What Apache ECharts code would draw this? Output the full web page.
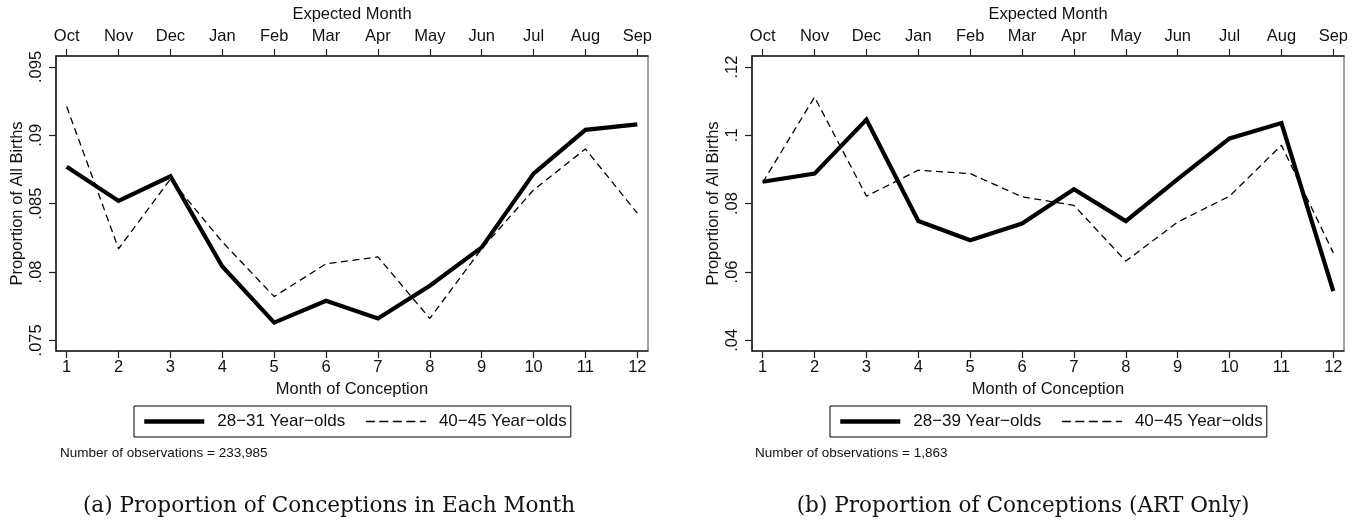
<!DOCTYPE html>
<html>
<head>
<meta charset="utf-8">
<script src="https://cdn.jsdelivr.net/npm/echarts@6/dist/echarts.min.js"></script>
<style>
  html, body { margin: 0; padding: 0; background: #fff; }
  #chart { width: 1363px; height: 521px; }
</style>
</head>
<body>
<div id="chart"></div>
<script>
// Month of conception (1..12) and the expected birth month for each
const conceptionMonths = [1, 2, 3, 4, 5, 6, 7, 8, 9, 10, 11, 12];
const expectedMonths = ['Oct', 'Nov', 'Dec', 'Jan', 'Feb', 'Mar', 'Apr', 'May', 'Jun', 'Jul', 'Aug', 'Sep'];

// Panel (a): all births
const allYoung = [0.0877, 0.0852, 0.0870, 0.0804, 0.0763, 0.0779, 0.0766, 0.0790, 0.0818, 0.0872, 0.0904, 0.0908];
const allOld   = [0.0921, 0.0817, 0.0868, 0.0822, 0.0782, 0.0806, 0.0811, 0.0766, 0.0817, 0.0860, 0.0890, 0.0843];
const allTicks = [0.075, 0.08, 0.085, 0.09, 0.095];

// Panel (b): ART births only
const artYoung = [0.0864, 0.0888, 0.1046, 0.0749, 0.0693, 0.0742, 0.0842, 0.0749, 0.0872, 0.0991, 0.1036, 0.0544];
const artOld   = [0.0862, 0.1112, 0.0822, 0.0898, 0.0888, 0.0820, 0.0795, 0.0632, 0.0746, 0.0822, 0.0971, 0.0656];
const artTicks = [0.04, 0.06, 0.08, 0.1, 0.12];

const namesA = ['28\u221231 Year\u2212olds', '40\u221245 Year\u2212olds'];
const namesB = ['28\u221239 Year\u2212olds', '40\u221245 Year\u2212olds'];
const obsA = 'Number of observations = 233,985';
const obsB = 'Number of observations = 1,863';
const captionA = '(a) Proportion of Conceptions in Each Month';
const captionB = '(b) Proportion of Conceptions (ART Only)';

const SANS = '"Liberation Sans", Arial, sans-serif';
const SERIF = '"DejaVu Serif", serif';
const FS = 16.5;
const AXIS_COLOR = '#222';
const TEXT_COLOR = '#111';

const SOLID = { color: '#000', width: 4.2, type: 'solid', join: 'miter' };
const DASHED = { color: '#000', width: 1.3, type: [7, 4.5] };
const KEY_SOLID = { color: '#000', width: 4.5, type: 'solid' };
const KEY_DASHED = { color: '#000', width: 1.4, type: [9, 4.5] };

const pairs = vals => conceptionMonths.map((m, i) => [m, vals[i]]);
const fmtProp = v => String(v).replace(/^0\./, '.');

function xAxes(gridIndex) {
  const common = {
    gridIndex, type: 'value', min: 0.794, max: 12.206,
    splitLine: { show: false },
    axisLine: { show: true, onZero: false, lineStyle: { color: AXIS_COLOR, width: 1.6 } },
    axisTick: { show: true, length: 7, customValues: conceptionMonths, lineStyle: { color: AXIS_COLOR, width: 1.2 } },
    nameLocation: 'middle',
    nameTextStyle: { fontFamily: SANS, fontSize: FS, color: TEXT_COLOR }
  };
  return [
    Object.assign({}, common, {
      position: 'bottom', name: 'Month of Conception', nameGap: 28,
      axisLabel: { customValues: conceptionMonths, margin: 8, fontFamily: SANS, fontSize: FS, color: TEXT_COLOR }
    }),
    Object.assign({}, common, {
      position: 'top', name: 'Expected Month', nameGap: 31,
      axisLabel: {
        customValues: conceptionMonths, margin: 11, fontFamily: SANS, fontSize: FS, color: TEXT_COLOR,
        formatter: v => expectedMonths[Math.round(v) - 1]
      }
    })
  ];
}

function yAxis(gridIndex, min, max, ticks) {
  return {
    gridIndex, type: 'value', min, max, position: 'left',
    splitLine: { show: false },
    axisLine: { show: true, onZero: false, lineStyle: { color: AXIS_COLOR, width: 1.6 } },
    axisTick: { show: true, length: 7, customValues: ticks, lineStyle: { color: AXIS_COLOR, width: 1.2 } },
    axisLabel: {
      customValues: ticks, rotate: 90, margin: 11, fontFamily: SANS, fontSize: FS, color: TEXT_COLOR,
      formatter: fmtProp
    },
    name: 'Proportion of All Births', nameLocation: 'middle', nameGap: 30,
    nameTextStyle: { fontFamily: SANS, fontSize: FS, color: TEXT_COLOR }
  };
}

function lineSeries(name, vals, xi, yi, dashed) {
  return {
    type: 'line', name, data: pairs(vals),
    xAxisIndex: xi, yAxisIndex: yi,
    symbol: 'none', smooth: false, silent: true,
    lineStyle: dashed ? DASHED : SOLID,
    itemStyle: { color: '#000' },
    z: dashed ? 2 : 3
  };
}

function legend(names, left) {
  return {
    data: [
      { name: names[0], lineStyle: KEY_SOLID },
      { name: names[1], lineStyle: KEY_DASHED }
    ],
    left, top: 406, orient: 'horizontal',
    itemWidth: 60, itemHeight: 14, itemGap: 20,
    padding: [7, 4, 7, 8],
    borderColor: '#000', borderWidth: 1, backgroundColor: '#fff',
    selectedMode: false,
    // line only, no marker in the key
    itemStyle: { opacity: 0, borderWidth: 0 },
    textStyle: { fontFamily: SANS, fontSize: 17, color: TEXT_COLOR, padding: [0, 0, 0, 8] }
  };
}

function caption(text, x, y, font, size, align) {
  return {
    type: 'text', x, y,
    style: { text, fill: TEXT_COLOR, font: size + 'px ' + font, align, verticalAlign: 'middle' }
  };
}

const grids = [
  { left: 56, top: 56, width: 592, height: 295, show: true, borderColor: '#444', borderWidth: 1, backgroundColor: '#fff' },
  { left: 752, top: 56, width: 592, height: 295, show: true, borderColor: '#444', borderWidth: 1, backgroundColor: '#fff' }
];

const option = {
  animation: false,
  backgroundColor: '#fff',
  grid: grids,
  xAxis: [...xAxes(0), ...xAxes(1)],
  yAxis: [yAxis(0, 0.07422, 0.0958, allTicks), yAxis(1, 0.03687, 0.12322, artTicks)],
  legend: [legend(namesA, 134), legend(namesB, 830)],
  series: [
    lineSeries(namesA[0], allYoung, 0, 0, false),
    lineSeries(namesA[1], allOld, 0, 0, true),
    lineSeries(namesB[0], artYoung, 2, 1, false),
    lineSeries(namesB[1], artOld, 2, 1, true)
  ],
  graphic: [
    caption(obsA, 60, 453, SANS, 13.5, 'left'),
    caption(obsB, 755, 453, SANS, 13.5, 'left'),
    caption(captionA, 329, 506, SERIF, 21.6, 'center'),
    caption(captionB, 1023, 506, SERIF, 21.6, 'center')
  ]
};

const chart = echarts.init(document.getElementById('chart'), null, { renderer: 'canvas' });
chart.setOption(option);
</script>
</body>
</html>
